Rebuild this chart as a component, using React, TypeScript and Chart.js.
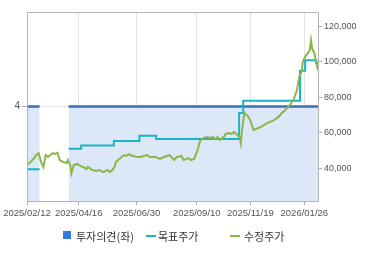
import React, { useEffect, useRef } from "react";
import { Chart, registerables } from "chart.js";

Chart.register(...registerables);

// x positions are trading-day indices (0 = 2025/02/12)
const xTickIdx = [0, 44.2, 93.7, 145.3, 191.1, 237.3];
const xTickLabels = ["2025/02/12", "2025/04/16", "2025/06/30", "2025/09/10", "2025/11/19", "2026/01/26"];

const rightTicks = [40000, 60000, 80000, 100000, 120000];
const leftTicks = [4];

const opinionIdx = [0, 10.8, 11, 35.6, 249];
const opinionVal = [4, 4, null, 4, 4];

const targetIdx = [0, 10.8, 11, 35.6, 46.4, 74.3, 96.2, 110.5, 181.5, 185, 233.6, 238, 247.5, 249];
const targetVal = [39300, 39300, null, 50900, 52700, 55200, 58200, 56300, 71000, 77900, 94800, 100800, 99200, 99200];

const priceIdx = [
  0, 3, 6, 8, 10, 12, 14, 16, 18, 20, 22, 24, 26, 28, 31, 34, 35, 37, 38, 40,
  43, 46, 48, 51, 52, 56, 59, 62, 65, 69, 71, 73, 75, 76, 78, 80, 81, 83, 85, 87,
  88, 91, 93, 97, 100, 103, 105, 110, 114, 117, 120, 122, 126, 128, 132, 134, 138, 140, 143, 146,
  148, 151, 154, 157, 159, 161, 163, 165, 167, 169, 170, 173, 175, 177, 180, 182, 183, 184, 186, 187,
  189, 191, 193, 194, 197, 200, 205, 211, 215, 218, 221, 223, 225, 228, 231, 232, 233, 235, 236, 238,
  239, 241, 242, 243, 244, 246, 247, 249,
];
const priceVal = [
  41700, 43400, 45500, 47300, 48300, 43500, 40600, 47300, 46200, 47300, 48400, 47900, 48600, 44500, 43400, 42800, 44500, 41700, 37000, 41700,
  42300, 41100, 40600, 39400, 40600, 38900, 38300, 38900, 37700, 38900, 37700, 38900, 40600, 43400, 44500, 45600, 46200, 47300, 46800, 47900,
  47300, 46800, 46400, 46200, 46800, 47300, 46200, 46200, 45100, 46200, 46800, 47300, 44500, 46200, 46800, 44500, 45600, 44500, 45100, 50100,
  55200, 56900, 57500, 56900, 57500, 56300, 57500, 55800, 56900, 58000, 59200, 59700, 59200, 60300, 58600, 57500, 53900, 61400, 71200, 70400,
  69300, 67000, 63100, 61400, 62400, 63100, 65200, 66900, 68700, 71000, 72700, 74200, 75500, 78300, 83900, 87700, 91400, 94300, 99900, 102700,
  103700, 105500, 106500, 112100, 107400, 104600, 100800, 95200,
];

const seriesNames = ["투자의견(좌)", "목표주가", "수정주가"];

const toPts = (xs: number[], ys: (number | null)[]) => xs.map((x, i) => ({ x, y: ys[i] }));

const borderPlugin = {
  id: "areaBorder",
  afterDatasetsDraw(chart: any) {
    const { ctx, chartArea: a } = chart;
    ctx.save();
    ctx.strokeStyle = "#b4b4b4";
    ctx.lineWidth = 1;
    ctx.strokeRect(Math.round(a.left) + 0.5, Math.round(a.top) + 0.5, Math.round(a.right - a.left), Math.round(a.bottom - a.top));
    ctx.restore();
  },
};

export default function App() {
  const ref = useRef<HTMLCanvasElement>(null);
  useEffect(() => {
    document.body.style.margin = "0";
    Chart.defaults.font.family = "'Liberation Sans', Arial, sans-serif";
    const chart = new Chart(ref.current!, {
      type: "line",
      data: {
        datasets: [
          {
            label: seriesNames[0],
            data: toPts(opinionIdx, opinionVal) as any,
            yAxisID: "yL",
            borderColor: "#3a6fb5",
            backgroundColor: "#dce7f7",
            borderWidth: 2.5,
            fill: "start",
            pointRadius: 0,
            spanGaps: false,
            order: 3,
          },
          {
            label: seriesNames[1],
            data: toPts(targetIdx, targetVal) as any,
            yAxisID: "yR",
            borderColor: "#19b3c7",
            borderWidth: 2,
            stepped: "before",
            pointRadius: 0,
            spanGaps: false,
            fill: false,
            order: 2,
          },
          {
            label: seriesNames[2],
            data: toPts(priceIdx, priceVal) as any,
            yAxisID: "yR",
            borderColor: "#8ab64a",
            borderWidth: 2,
            pointRadius: 0,
            tension: 0,
            fill: false,
            order: 1,
          },
        ],
      },
      options: {
        animation: false,
        responsive: false,
        devicePixelRatio: 1,
        layout: { padding: { left: 0, right: 0, top: 12, bottom: 30 } },
        plugins: { legend: { display: false }, tooltip: { enabled: false } },
        scales: {
          x: {
            type: "linear",
            min: 0,
            max: 249,
            afterBuildTicks: (s: any) => {
              s.ticks = xTickIdx.map((v) => ({ value: v }));
            },
            afterFit: (s: any) => {
              s.height = 24;
              s.paddingLeft = 0;
              s.paddingRight = 0;
            },
            ticks: {
              autoSkip: false,
              maxRotation: 0,
              padding: 3,
              color: "#555",
              font: { size: 9.5 },
              callback: (v: any) => {
                const i = xTickIdx.indexOf(Number(v));
                return i >= 0 ? xTickLabels[i] : "";
              },
            },
            grid: { color: "#e2e2e2", tickColor: "#aaa", tickLength: 4 },
            border: { display: false },
          },
          yL: {
            position: "left",
            min: 0,
            max: 8,
            afterBuildTicks: (s: any) => {
              s.ticks = leftTicks.map((v) => ({ value: v }));
            },
            afterFit: (s: any) => {
              s.width = 27;
            },
            ticks: { color: "#555", font: { size: 10 }, padding: 2 },
            grid: { color: "#e6e6e6", tickColor: "#aaa", tickLength: 5 },
            border: { display: false },
          },
          yR: {
            position: "right",
            min: 21400,
            max: 128000,
            afterBuildTicks: (s: any) => {
              s.ticks = rightTicks.map((v) => ({ value: v }));
            },
            afterFit: (s: any) => {
              s.width = 52;
            },
            ticks: {
              color: "#555",
              font: { size: 9 },
              padding: 2,
              callback: (v: any) => Number(v).toLocaleString("en-US"),
            },
            grid: { drawOnChartArea: false, tickColor: "#aaa", tickLength: 4 },
            border: { display: false },
          },
        },
      },
      plugins: [borderPlugin],
    });
    return () => chart.destroy();
  }, []);

  const legendFont: React.CSSProperties = {
    position: "absolute",
    top: 229,
    fontFamily: "'Noto Sans CJK KR', sans-serif",
    fontSize: 11,
    lineHeight: "15px",
    color: "#333",
    whiteSpace: "nowrap",
  };

  return (
    <div style={{ position: "relative", width: 370, height: 255, overflow: "hidden", background: "#fff" }}>
      <canvas ref={ref} width={370} height={255} style={{ position: "absolute", left: 0, top: 0 }} />
      <div style={{ position: "absolute", left: 63, top: 231, width: 8, height: 8, background: "#2f7be0" }} />
      <div style={{ ...legendFont, left: 76 }}>{seriesNames[0]}</div>
      <div style={{ position: "absolute", left: 146, top: 235, width: 10, height: 2, background: "#19b3c7" }} />
      <div style={{ ...legendFont, left: 158 }}>{seriesNames[1]}</div>
      <div style={{ position: "absolute", left: 230, top: 235, width: 10, height: 2, background: "#8ab64a" }} />
      <div style={{ ...legendFont, left: 244 }}>{seriesNames[2]}</div>
    </div>
  );
}
